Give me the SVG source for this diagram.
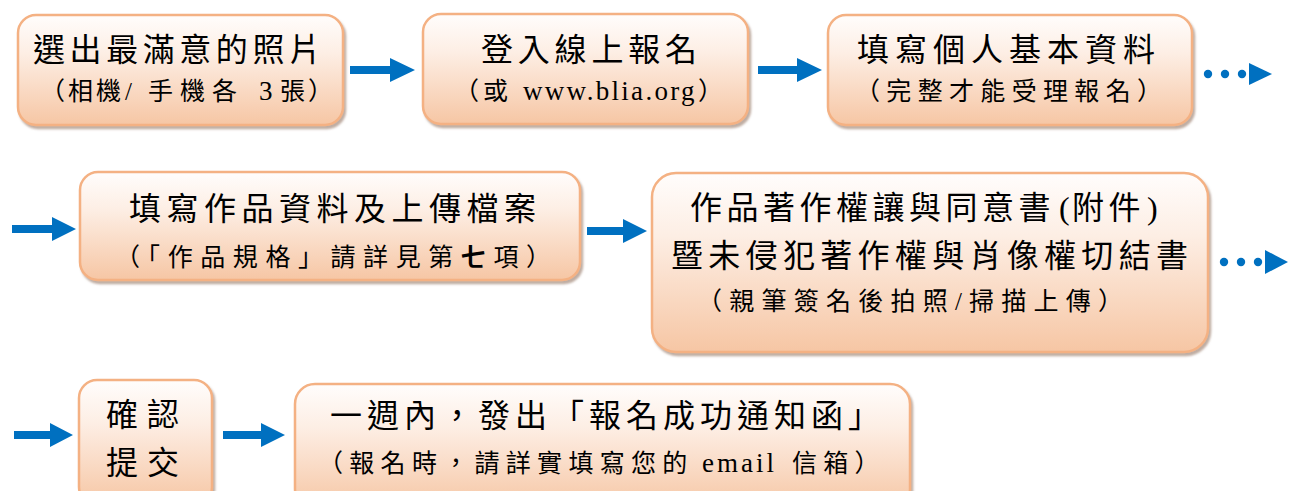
<svg xmlns="http://www.w3.org/2000/svg" width="1293" height="491" viewBox="0 0 1293 491">
<style>
.box{fill:url(#g);stroke:#f4b183;stroke-width:2.5;filter:url(#sh)}
.t{font-family:"Liberation Serif","Noto Sans CJK TC",serif;fill:#000}
.l1{font-size:32px}
.l2{font-size:25px}
.lat{font-family:"Liberation Serif",serif;font-size:27px}
.arrow{fill:#0070c0}
</style>
<defs>
<linearGradient id="g" x1="0" y1="0" x2="0" y2="1">
<stop offset="0" stop-color="#fffdfc"/>
<stop offset="0.35" stop-color="#fdeee4"/>
<stop offset="1" stop-color="#f6c6a4"/>
</linearGradient>
<filter id="sh" x="-5%" y="-5%" width="112%" height="120%">
<feDropShadow dx="2" dy="3" stdDeviation="1.2" flood-color="#8a6a55" flood-opacity="0.55"/>
</filter>
</defs>
<rect width="1293" height="491" fill="#fff"/>

<g id="connectors">
<polygon class="arrow" points="350,66 390,66 390,58 415,70 390,82 390,74 350,74"/>
<polygon class="arrow" points="758,66 797,66 797,58 822,70 797,82 797,74 758,74"/>
<circle class="arrow" cx="1208" cy="74" r="4.2"/>
<circle class="arrow" cx="1225" cy="74" r="4.2"/>
<circle class="arrow" cx="1242" cy="74" r="4.2"/>
<polygon class="arrow" points="1249,63 1272,74 1249,85"/>
<polygon class="arrow" points="12,225 52,225 52,217 76,229 52,241 52,233 12,233"/>
<polygon class="arrow" points="587,227 623,227 623,219 647,231 623,243 623,235 587,235"/>
<circle class="arrow" cx="1224" cy="262" r="4.2"/>
<circle class="arrow" cx="1241" cy="262" r="4.2"/>
<circle class="arrow" cx="1258" cy="262" r="4.2"/>
<polygon class="arrow" points="1265,250 1288,262 1265,274"/>
<polygon class="arrow" points="14,431 50,431 50,423 73,435 50,447 50,439 14,439"/>
<polygon class="arrow" points="223,431 261,431 261,423 285,435 261,447 261,439 223,439"/>
</g>

<g id="n1">
<rect class="box" x="18" y="15" width="325" height="110" rx="18"/>
<text class="t l1" x="33" y="61" textLength="288" lengthAdjust="spacing">選出最滿意的照片</text>
<text class="t l2" x="40" y="100" style="letter-spacing:3px">（相機<tspan x="125">/</tspan><tspan x="148" style="letter-spacing:7px">手機各</tspan><tspan style="letter-spacing:0"> </tspan><tspan class="lat" x="259" style="letter-spacing:0">3</tspan><tspan style="letter-spacing:0"> </tspan><tspan x="280">張）</tspan></text>
</g>

<g id="n2">
<rect class="box" x="423" y="14" width="325" height="110" rx="18"/>
<text class="t l1" x="481" y="61" textLength="216" lengthAdjust="spacing">登入線上報名</text>
<text class="t l2" x="454" y="100" style="letter-spacing:4px">（或 <tspan class="lat" x="523" style="letter-spacing:2.3px">www.blia.org</tspan><tspan x="698">）</tspan></text>
</g>

<g id="n3">
<rect class="box" x="828" y="15" width="364" height="110" rx="18"/>
<text class="t l1" x="857" y="61" textLength="298" lengthAdjust="spacing">填寫個人基本資料</text>
<text class="t l2" x="855" y="100" textLength="307" lengthAdjust="spacing">（完整才能受理報名）</text>
</g>

<g id="n4">
<rect class="box" x="80" y="172" width="500" height="108" rx="18"/>
<text class="t l1" x="129" y="220" textLength="407" lengthAdjust="spacing">填寫作品資料及上傳檔案</text>
<text class="t l2" x="115" y="266" textLength="436" lengthAdjust="spacing">（「作品規格」請詳見第<tspan font-weight="bold">七</tspan>項）</text>
</g>

<g id="n5">
<rect class="box" x="652" y="173" width="556" height="179" rx="24"/>
<text class="t l1" x="690" y="219" style="letter-spacing:4.5px">作品著作權讓與同意書<tspan x="1059" style="letter-spacing:0">(</tspan><tspan x="1072">附件</tspan><tspan x="1147" style="letter-spacing:0">)</tspan></text>
<text class="t l1" x="671" y="267" textLength="517" lengthAdjust="spacing">暨未侵犯著作權與肖像權切結書</text>
<text class="t l2" x="697" y="310" textLength="426" lengthAdjust="spacing">（親筆簽名後拍照/掃描上傳）</text>
</g>

<g id="n6">
<rect class="box" x="79" y="380" width="133" height="125" rx="18"/>
<text class="t l1" x="106" y="426" textLength="73" lengthAdjust="spacing">確認</text>
<text class="t l1" x="106" y="474" textLength="73" lengthAdjust="spacing">提交</text>
</g>

<g id="n7">
<rect class="box" x="295" y="384" width="615" height="125" rx="20"/>
<text class="t l1" x="330" y="427" textLength="550" lengthAdjust="spacing">一週內，發出「報名成功通知函」</text>
<text class="t l2" x="318" y="472" style="letter-spacing:6.3px">（報名時，請詳實填寫您的 <tspan class="lat" x="702" style="letter-spacing:3px">email </tspan><tspan x="792">信箱）</tspan></text>
</g>
</svg>
